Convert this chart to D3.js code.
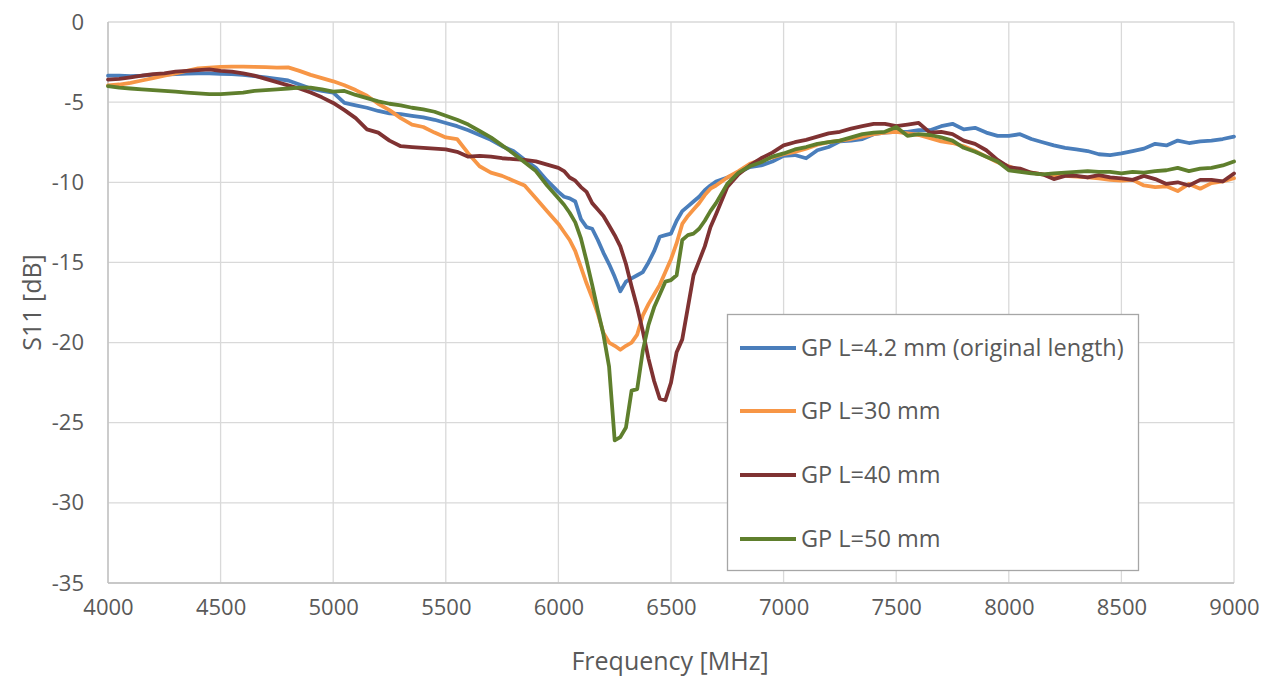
<!DOCTYPE html>
<html>
<head>
<meta charset="utf-8">
<script src="https://cdn.jsdelivr.net/npm/d3@7"></script>
<style>
  html, body { margin: 0; padding: 0; background: #ffffff; }
  svg { display: block; }
  text { font-family: "Open Sans", "Noto Sans", sans-serif; fill: #595959; }
</style>
</head>
<body>
<svg id="chart" width="1277" height="680"></svg>
<script>
const freq = [
  4000,4050,4100,4150,4200,4250,4300,4350,4400,4450,4500,4550,4600,4650,4700,4750,4800,4850,4900,4950,
  5000,5050,5100,5150,5200,5250,5300,5350,5400,5450,5500,5550,5600,5650,5700,5750,5800,5850,5900,5950,
  6000,6025,6050,6075,6100,6125,6150,6175,6200,6225,6250,6275,6300,6325,6350,6375,6400,6425,6450,6475,
  6500,6525,6550,6575,6600,6625,6650,6675,6700,
  6750,6800,6850,6900,6950,7000,7050,7100,7150,7200,7250,7300,7350,7400,7450,7500,7550,7600,7650,7700,
  7750,7800,7850,7900,7950,8000,8050,8100,8150,8200,8250,8300,8350,8400,8450,8500,8550,8600,8650,8700,
  8750,8800,8850,8900,8950,9000
];

const s11_L4_2 = [
  -3.35,-3.35,-3.38,-3.35,-3.3,-3.28,-3.25,-3.22,-3.2,-3.2,-3.24,-3.25,-3.3,-3.38,-3.45,-3.55,-3.65,-3.9,-4.15,-4.3,
  -4.4,-5.05,-5.2,-5.35,-5.55,-5.7,-5.75,-5.85,-5.95,-6.1,-6.3,-6.5,-6.75,-7.05,-7.35,-7.75,-8.05,-8.6,-9.1,-9.9,
  -10.6,-10.9,-11.0,-11.2,-12.3,-12.8,-12.9,-13.6,-14.4,-15.1,-15.9,-16.8,-16.2,-16.0,-15.8,-15.6,-15.0,-14.3,-13.4,-13.3,
  -13.2,-12.4,-11.8,-11.5,-11.2,-10.9,-10.5,-10.2,-9.95,
  -9.7,-9.4,-9.05,-8.95,-8.7,-8.35,-8.3,-8.5,-8.0,-7.8,-7.45,-7.4,-7.3,-7.0,-6.9,-6.85,-6.85,-6.75,-6.75,-6.5,
  -6.35,-6.7,-6.6,-6.9,-7.1,-7.1,-7.0,-7.3,-7.5,-7.7,-7.85,-7.95,-8.05,-8.25,-8.3,-8.2,-8.05,-7.9,-7.6,-7.7,
  -7.4,-7.55,-7.45,-7.4,-7.3,-7.15
];

const s11_L30 = [
  -3.95,-3.9,-3.8,-3.65,-3.5,-3.35,-3.2,-3.05,-2.9,-2.85,-2.8,-2.78,-2.78,-2.8,-2.82,-2.85,-2.83,-3.05,-3.3,-3.5,
  -3.7,-3.95,-4.25,-4.6,-5.1,-5.5,-6.0,-6.4,-6.55,-6.9,-7.2,-7.3,-8.2,-9.0,-9.4,-9.6,-9.9,-10.2,-11.0,-11.8,
  -12.6,-13.1,-13.6,-14.3,-15.3,-16.3,-17.2,-18.2,-19.4,-20.0,-20.2,-20.45,-20.2,-20.0,-19.5,-18.3,-17.6,-17.0,-16.4,-15.6,
  -14.8,-13.8,-12.6,-12.1,-11.7,-11.3,-10.8,-10.4,-10.2,
  -9.7,-9.3,-8.85,-8.6,-8.45,-8.25,-8.1,-7.9,-7.65,-7.5,-7.4,-7.3,-7.15,-7.0,-6.9,-6.85,-6.95,-7.05,-7.25,-7.45,
  -7.55,-7.75,-8.05,-8.4,-8.75,-9.0,-9.3,-9.4,-9.5,-9.55,-9.6,-9.65,-9.7,-9.75,-9.85,-9.9,-9.85,-10.2,-10.3,-10.25,
  -10.55,-10.1,-10.4,-10.05,-9.95,-9.75
];

const s11_L40 = [
  -3.6,-3.55,-3.45,-3.35,-3.25,-3.2,-3.1,-3.05,-3.0,-2.95,-3.05,-3.1,-3.2,-3.35,-3.55,-3.75,-3.95,-4.15,-4.4,-4.7,
  -5.05,-5.5,-6.0,-6.7,-6.9,-7.4,-7.75,-7.8,-7.85,-7.9,-7.95,-8.1,-8.4,-8.35,-8.4,-8.5,-8.55,-8.6,-8.7,-8.9,
  -9.1,-9.3,-9.7,-9.9,-10.3,-10.6,-11.3,-11.7,-12.1,-12.7,-13.3,-14.0,-15.1,-16.5,-17.8,-19.3,-21.0,-22.4,-23.5,-23.6,
  -22.5,-20.6,-19.8,-17.8,-15.8,-14.9,-14.0,-12.8,-12.0,
  -10.3,-9.5,-8.95,-8.5,-8.15,-7.7,-7.5,-7.35,-7.15,-6.95,-6.85,-6.65,-6.5,-6.35,-6.35,-6.5,-6.4,-6.3,-6.9,-6.85,
  -7.0,-7.4,-7.6,-8.0,-8.6,-9.05,-9.15,-9.4,-9.5,-9.8,-9.6,-9.6,-9.7,-9.55,-9.7,-9.75,-9.85,-9.6,-9.8,-10.1,
  -10.0,-10.2,-9.85,-9.85,-9.95,-9.45
];

const s11_L50 = [
  -4.0,-4.1,-4.15,-4.2,-4.25,-4.3,-4.35,-4.4,-4.45,-4.5,-4.5,-4.45,-4.4,-4.3,-4.25,-4.2,-4.15,-4.1,-4.1,-4.2,
  -4.35,-4.3,-4.55,-4.75,-4.95,-5.1,-5.2,-5.35,-5.45,-5.6,-5.85,-6.1,-6.4,-6.8,-7.2,-7.7,-8.2,-8.75,-9.3,-10.2,
  -11.0,-11.4,-11.9,-12.5,-13.5,-14.9,-16.4,-18.0,-19.5,-21.5,-26.1,-25.9,-25.3,-23.0,-22.9,-20.5,-18.9,-17.8,-17.0,-16.2,
  -16.1,-15.8,-13.6,-13.3,-13.2,-12.9,-12.4,-11.8,-11.3,
  -10.1,-9.4,-9.0,-8.75,-8.4,-8.2,-7.95,-7.8,-7.6,-7.5,-7.4,-7.2,-7.0,-6.9,-6.85,-6.55,-7.1,-7.0,-7.05,-7.2,
  -7.4,-7.85,-8.1,-8.4,-8.7,-9.25,-9.35,-9.45,-9.5,-9.45,-9.4,-9.35,-9.3,-9.35,-9.35,-9.45,-9.35,-9.4,-9.3,-9.25,
  -9.1,-9.3,-9.15,-9.1,-8.95,-8.7
];

const seriesNames = ["GP L=4.2 mm (original length)", "GP L=30 mm", "GP L=40 mm", "GP L=50 mm"];
const seriesValues = [s11_L4_2, s11_L30, s11_L40, s11_L50];
const seriesColors = ["#4a7ebb", "#f79646", "#7f3232", "#5f7f2d"];
const xTicks = [4000,4500,5000,5500,6000,6500,7000,7500,8000,8500,9000];
const yTicks = [0,-5,-10,-15,-20,-25,-30,-35];

const svg = d3.select("#chart");
const margin = {left: 108, right: 1234, top: 22, bottom: 583};

const x = d3.scaleLinear().domain([4000, 9000]).range([margin.left, margin.right]);
const y = d3.scaleLinear().domain([-35, 0]).range([margin.bottom, margin.top]);

// grid
const grid = svg.append("g");
grid.selectAll("line.h").data(yTicks).enter().append("line")
  .attr("x1", margin.left).attr("x2", margin.right)
  .attr("y1", d => y(d)).attr("y2", d => y(d))
  .attr("stroke", "#d9d9d9").attr("stroke-width", 1.3);
grid.selectAll("line.v").data(xTicks).enter().append("line")
  .attr("y1", margin.top).attr("y2", margin.bottom)
  .attr("x1", d => x(d)).attr("x2", d => x(d))
  .attr("stroke", "#d9d9d9").attr("stroke-width", 1.3);

// axes lines
svg.append("line").attr("x1", margin.left).attr("x2", margin.left)
  .attr("y1", margin.top).attr("y2", margin.bottom).attr("stroke", "#bfbfbf").attr("stroke-width", 1.3);
svg.append("line").attr("x1", margin.left).attr("x2", margin.right)
  .attr("y1", margin.bottom).attr("y2", margin.bottom).attr("stroke", "#bfbfbf").attr("stroke-width", 1.3);

// axes labels via d3 axes
const yAxis = d3.axisLeft(y).tickValues(yTicks).tickSize(0).tickPadding(24).tickFormat(d => String(d));
const yg = svg.append("g").attr("transform", `translate(${margin.left},0)`).call(yAxis);
yg.select(".domain").remove();
yg.selectAll("text").attr("font-size", 22).style("fill", "#595959")
  .attr("font-family", "'Open Sans', sans-serif");

const xAxis = d3.axisBottom(x).tickValues(xTicks).tickSize(0).tickPadding(16).tickFormat(d => String(d));
const xg = svg.append("g").attr("transform", `translate(0,${margin.bottom})`).call(xAxis);
xg.select(".domain").remove();
xg.selectAll("text").attr("font-size", 22).style("fill", "#595959")
  .attr("font-family", "'Open Sans', sans-serif");

// titles
svg.append("text").attr("x", 670).attr("y", 670)
  .attr("text-anchor", "middle").attr("font-size", 25).text("Frequency [MHz]");
svg.append("text").attr("transform", `translate(41,${(margin.top + margin.bottom) / 2}) rotate(-90)`)
  .attr("text-anchor", "middle").attr("font-size", 25).text("S11 [dB]");

// lines
const line = d3.line().x((d, i) => x(freq[i])).y(d => y(d));
svg.append("g").selectAll("path").data(seriesValues).enter().append("path")
  .attr("d", d => line(d))
  .attr("fill", "none")
  .attr("stroke", (d, i) => seriesColors[i])
  .attr("stroke-width", 3.8)
  .attr("stroke-linejoin", "round")
  .attr("stroke-linecap", "round");

// legend
const lg = svg.append("g");
lg.append("rect").attr("x", 727.5).attr("y", 314.5).attr("width", 411).attr("height", 256)
  .attr("fill", "#ffffff").attr("stroke", "#a6a6a6").attr("stroke-width", 1.3);
const legendY = [348, 411, 475, 539];
seriesNames.forEach((name, i) => {
  lg.append("line").attr("x1", 740).attr("x2", 796).attr("y1", legendY[i]).attr("y2", legendY[i])
    .attr("stroke", seriesColors[i]).attr("stroke-width", 3.8);
  lg.append("text").attr("x", 801).attr("y", legendY[i]).attr("dy", "0.35em")
    .attr("font-size", 23.5).text(name);
});
</script>
</body>
</html>
